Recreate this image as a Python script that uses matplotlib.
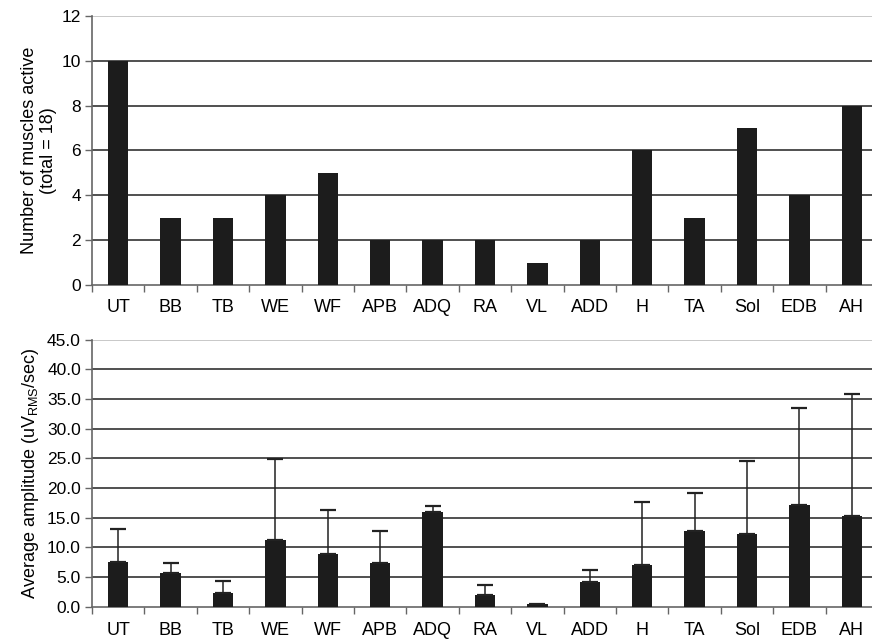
import numpy as np
import matplotlib
matplotlib.use("Agg")
import matplotlib.pyplot as plt
from matplotlib.ticker import FixedLocator, FormatStrFormatter

plt.rcParams['font.family'] = ['Liberation Sans', 'DejaVu Sans']
plt.rcParams['mathtext.fontset'] = 'custom'
plt.rcParams['mathtext.rm'] = 'Liberation Sans'
plt.rcParams['mathtext.it'] = 'Liberation Sans:italic'

# Dados
musculos = ["UT", "BB", "TB", "WE", "WF", "APB", "ADQ", "RA", "VL", "ADD",
            "H", "TA", "Sol", "EDB", "AH"]
n_ativos = [10, 3, 3, 4, 5, 2, 2, 2, 1, 2, 6, 3, 7, 4, 8]
amplitude_media = [7.6, 5.7, 2.25, 11.2, 8.8, 7.35, 15.9, 2.0, 0.4, 4.1,
                   7.1, 12.7, 12.2, 17.2, 15.3]
# VL sem barra de erro visivel
amplitude_topo_erro = [13.1, 7.35, 4.3, 24.9, 16.3, 12.7, 16.95, 3.6, np.nan, 6.1,
                       17.6, 19.2, 24.5, 33.45, 35.75]

COR_BARRA = "#1c1c1c"
COR_GRADE = "#505050"
LARGURA = 0.39

fig = plt.figure(figsize=(8.72, 6.43), dpi=100)
ax1 = fig.add_axes([92 / 872, 1 - 285 / 643, 786 / 872, 269 / 643])
ax2 = fig.add_axes([92 / 872, 1 - 606.7 / 643, 786 / 872, 267.2 / 643])

x = np.arange(len(musculos))


def estilo(ax, ymax, passo, pad):
    ax.set_xlim(-0.5, len(musculos) - 0.5)
    ax.set_ylim(0, ymax)
    ax.set_yticks(np.arange(0, ymax + passo / 2, passo))
    ax.set_axisbelow(True)
    ax.yaxis.grid(True, color=COR_GRADE, linewidth=1.4)
    ax.get_ygridlines()[-1].set_color("#c8c8c8")
    ax.get_ygridlines()[0].set_visible(False)
    for s in ["top", "right"]:
        ax.spines[s].set_visible(False)
    ax.spines["left"].set_color("#666666")
    ax.spines["bottom"].set_color("#666666")
    ax.spines["left"].set_linewidth(1.2)
    ax.spines["bottom"].set_linewidth(1.2)
    ax.set_xticks(x)
    ax.set_xticklabels(musculos, fontsize=13)
    ax.tick_params(axis="x", which="major", length=0, pad=pad)
    ax.xaxis.set_minor_locator(FixedLocator(np.arange(-0.5, len(musculos), 1.0)))
    ax.tick_params(axis="x", which="minor", length=5, color="#666666", width=1)
    ax.tick_params(axis="y", length=5, color="#666666", width=1, labelsize=12.5, pad=3)


# Grafico de cima
ax1.bar(x, n_ativos, width=LARGURA, color=COR_BARRA, zorder=3)
estilo(ax1, 12, 2, 10)
ax1.set_ylabel("Number of muscles active\n(total = 18)", fontsize=13, labelpad=3,
               linespacing=1.2)

# Grafico de baixo
erro = np.array(amplitude_topo_erro) - np.array(amplitude_media)
ax2.bar(x, amplitude_media, width=LARGURA, color=COR_BARRA, zorder=3)
ax2.errorbar(x, amplitude_media, yerr=[np.zeros(len(erro)), erro], fmt="none",
             ecolor="#222222", elinewidth=1.1, capsize=5.5, capthick=1.6, zorder=4)
estilo(ax2, 45, 5, 11)
ax2.yaxis.set_major_formatter(FormatStrFormatter("%.1f"))
ax2.set_ylabel(r"Average amplitude (uV$_{\mathrm{RMS}}$/sec)", fontsize=13, labelpad=4)

fig.savefig("out.png", dpi=100)
